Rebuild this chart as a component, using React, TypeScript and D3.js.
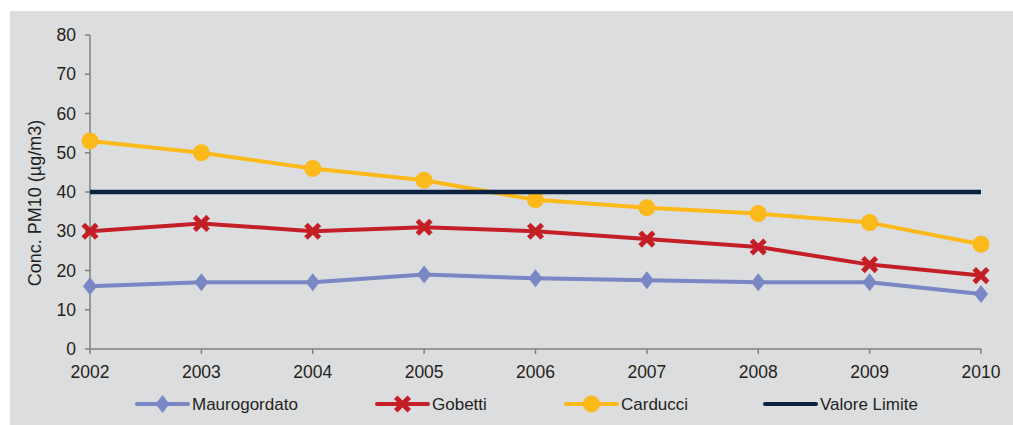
import React from "react";
import * as d3 from "d3";

const years = [2002, 2003, 2004, 2005, 2006, 2007, 2008, 2009, 2010];
const maurogordato = [16, 17, 17, 19, 18, 17.5, 17, 17, 14];
const gobetti = [30, 32, 30, 31, 30, 28, 26, 21.5, 18.7];
const carducci = [53, 50, 46, 43, 38, 36, 34.5, 32.2, 26.7];
const valoreLimite = [40, 40, 40, 40, 40, 40, 40, 40, 40];
const yTicks = [0, 10, 20, 30, 40, 50, 60, 70, 80];
const legendLabels = ["Maurogordato", "Gobetti", "Carducci", "Valore Limite"];

const W = 1013, H = 425;
const FONT = "Liberation Sans, Arial, Helvetica, sans-serif";
const TEXT = "#231f20";
const AXIS = "#808080";
const C_MAURO = "#7b86c4";
const C_GOB = "#c41f26";
const C_CARD = "#fbb91a";
const C_VAL = "#0b2240";

function Marker({ type, x, y, color }: { type: string; x: number; y: number; color: string }) {
  if (type === "diamond") {
    return <path d={`M${x},${y - 9} L${x + 7},${y} L${x},${y + 9} L${x - 7},${y} Z`} fill={color} />;
  }
  if (type === "x") {
    return (
      <g stroke={color} strokeWidth={5} strokeLinecap="square">
        <line x1={x - 5} y1={y - 5} x2={x + 5} y2={y + 5} />
        <line x1={x - 5} y1={y + 5} x2={x + 5} y2={y - 5} />
      </g>
    );
  }
  if (type === "circle") {
    return <circle cx={x} cy={y} r={8.5} fill={color} />;
  }
  return null;
}

export default function App() {
  const x = d3.scalePoint<number>().domain(years).range([90, 981]);
  const y = d3.scaleLinear().domain([0, 80]).range([349, 35]);
  const line = d3
    .line<number>()
    .x((_, i) => x(years[i]) as number)
    .y((d) => y(d));

  const series = [
    { name: legendLabels[0], data: maurogordato, color: C_MAURO, marker: "diamond" },
    { name: legendLabels[1], data: gobetti, color: C_GOB, marker: "x" },
    { name: legendLabels[2], data: carducci, color: C_CARD, marker: "circle" },
    { name: legendLabels[3], data: valoreLimite, color: C_VAL, marker: "none" },
  ];

  const legendX = [137, 377, 566, 765];
  const legendY = 404;

  return (
    <svg
      width={W}
      height={H}
      style={{ position: "absolute", left: 0, top: 0 }}
      fontFamily={FONT}
    >
      <rect x={0} y={0} width={W} height={H} fill="#ffffff" />
      <rect x={10} y={11} width={W - 10} height={H - 11} fill="#dcdddf" />

      {/* Y axis */}
      <line x1={90} y1={y(80)} x2={90} y2={y(0)} stroke={AXIS} strokeWidth={1.5} />
      {yTicks.map((t) => (
        <g key={t}>
          <line x1={85} y1={y(t)} x2={90} y2={y(t)} stroke={AXIS} strokeWidth={1.5} />
          <text x={76} y={y(t)} textAnchor="end" dominantBaseline="central" fontSize={17.5} fill={TEXT}>
            {t}
          </text>
        </g>
      ))}
      <text
        transform={`translate(35,203) rotate(-90)`}
        textAnchor="middle"
        dominantBaseline="central"
        fontSize={18}
        fill={TEXT}
      >
        Conc. PM10 (µg/m3)
      </text>

      {/* X axis */}
      <line x1={90} y1={y(0)} x2={981} y2={y(0)} stroke={AXIS} strokeWidth={1.5} />
      {years.map((yr) => (
        <g key={yr}>
          <line x1={x(yr)} y1={y(0)} x2={x(yr)} y2={y(0) + 5} stroke={AXIS} strokeWidth={1.5} />
          <text x={x(yr)} y={377.5} textAnchor="middle" fontSize={17.5} fill={TEXT}>
            {yr}
          </text>
        </g>
      ))}

      {/* Series */}
      {series.map((s) => (
        <g key={s.name}>
          <path d={line(s.data) || ""} fill="none" stroke={s.color} strokeWidth={s.marker === "none" ? 4.5 : 4} strokeLinejoin="round" />
          {s.data.map((v, i) => (
            <Marker key={i} type={s.marker} x={x(years[i]) as number} y={y(v)} color={s.color} />
          ))}
        </g>
      ))}

      {/* Legend */}
      {series.map((s, i) => (
        <g key={s.name}>
          <line
            x1={legendX[i]}
            y1={legendY}
            x2={legendX[i] + 51}
            y2={legendY}
            stroke={s.color}
            strokeWidth={4}
            strokeLinecap="round"
          />
          <Marker type={s.marker} x={legendX[i] + 25.5} y={legendY} color={s.color} />
          <text x={legendX[i] + 55} y={legendY} dominantBaseline="central" fontSize={17} fill={TEXT}>
            {s.name}
          </text>
        </g>
      ))}
    </svg>
  );
}
